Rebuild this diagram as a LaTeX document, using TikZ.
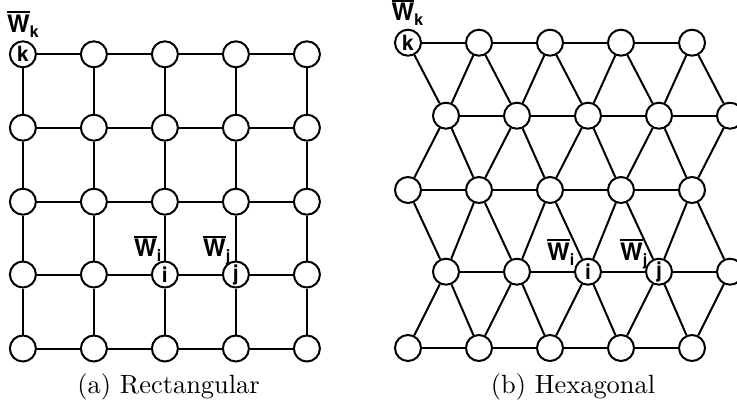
\documentclass[tikz,border=0pt]{standalone}
\usepackage{fontspec}
\newfontfamily\labfont{TeX Gyre Heros}
\newfontfamily\capfont{lmroman10-regular.otf}
\newcommand{\wbar}[1]{\setbox0\hbox{W}\rlap{\raisebox{19pt}{\rule{\wd0}{2.2pt}}}\box0\raisebox{-5pt}{\fontsize{16}{16}\selectfont #1}}
\tikzset{
  vtx/.style={circle, draw, line width=2pt, fill=white, minimum size=26pt, inner sep=0pt,
    font=\labfont\bfseries\fontsize{21}{21}\selectfont},
  edge/.style={line width=2pt},
  wlab/.style={anchor=base west, inner sep=0pt, font=\labfont\bfseries\fontsize{24}{24}\selectfont},
  capt/.style={anchor=base, inner sep=0pt, font=\capfont\fontsize{26.4}{30}\selectfont}
}
\begin{document}
\begin{tikzpicture}[x=1pt,y=-1pt]
\useasboundingbox (0,0) rectangle (737,410);
\clip (0,0) rectangle (737,410);
% ---------- rectangular ----------
\foreach \c in {1,...,5}{
  \foreach \r/\y in {1/54.3,2/127.7,3/201.7,4/274.5,5/348.5}{
    \pgfmathsetmacro\x{22.9+71*(\c-1)}
    \node[vtx] (R-\c-\r) at (\x,\y) {\ifnum\c\r=11 k\fi\ifnum\c\r=34 i\fi\ifnum\c\r=44 j\fi};
  }
}
\foreach \a in {1,...,5}{
  \foreach \b in {1,...,4}{
    \pgfmathtruncatemacro\bb{\b+1}
    \draw[edge] (R-\a-\b) -- (R-\a-\bb);
    \draw[edge] (R-\b-\a) -- (R-\bb-\a);
  }
}
% ---------- hexagonal ----------
\foreach \r/\y/\xo in {1/42.7/408,2/115.7/446,3/190/408,4/271.7/446,5/348/408}{
  \foreach \c in {1,...,5}{
    \pgfmathsetmacro\x{\xo+71*(\c-1)}
    \node[vtx] (H-\r-\c) at (\x,\y) {\ifnum\r\c=11 k\fi\ifnum\r\c=43 i\fi\ifnum\r\c=44 j\fi};
  }
}
\foreach \r in {1,...,5}{
  \foreach \c in {1,...,4}{
    \pgfmathtruncatemacro\cc{\c+1}
    \draw[edge] (H-\r-\c) -- (H-\r-\cc);
  }
}
\foreach \e in {2,4}{
  \pgfmathtruncatemacro\up{\e-1}
  \pgfmathtruncatemacro\dn{\e+1}
  \foreach \c in {1,...,5}{
    \draw[edge] (H-\e-\c) -- (H-\up-\c);
    \draw[edge] (H-\e-\c) -- (H-\dn-\c);
  }
  \foreach \c in {1,...,4}{
    \pgfmathtruncatemacro\cc{\c+1}
    \draw[edge] (H-\e-\c) -- (H-\up-\cc);
    \draw[edge] (H-\e-\c) -- (H-\dn-\cc);
  }
}
% ---------- labels ----------
\node[wlab] (Lrk) at (7,32) {\wbar{k}};
\node[wlab] (Lri) at (134,256.7) {\wbar{i}};
\node[wlab] (Lrj) at (203,256.7) {\wbar{j}};
\node[wlab] (Lhk) at (391.5,20.5) {\wbar{k}};
\node[wlab] (Lhi) at (547,260) {\wbar{i}};
\node[wlab] (Lhj) at (620,260) {\wbar{j}};
% ---------- captions ----------
\node[capt] (capa) at (168.6,393) {(a) Rectangular};
\node[capt] (capb) at (573,393) {(b) Hexagonal};
\end{tikzpicture}
\end{document}
